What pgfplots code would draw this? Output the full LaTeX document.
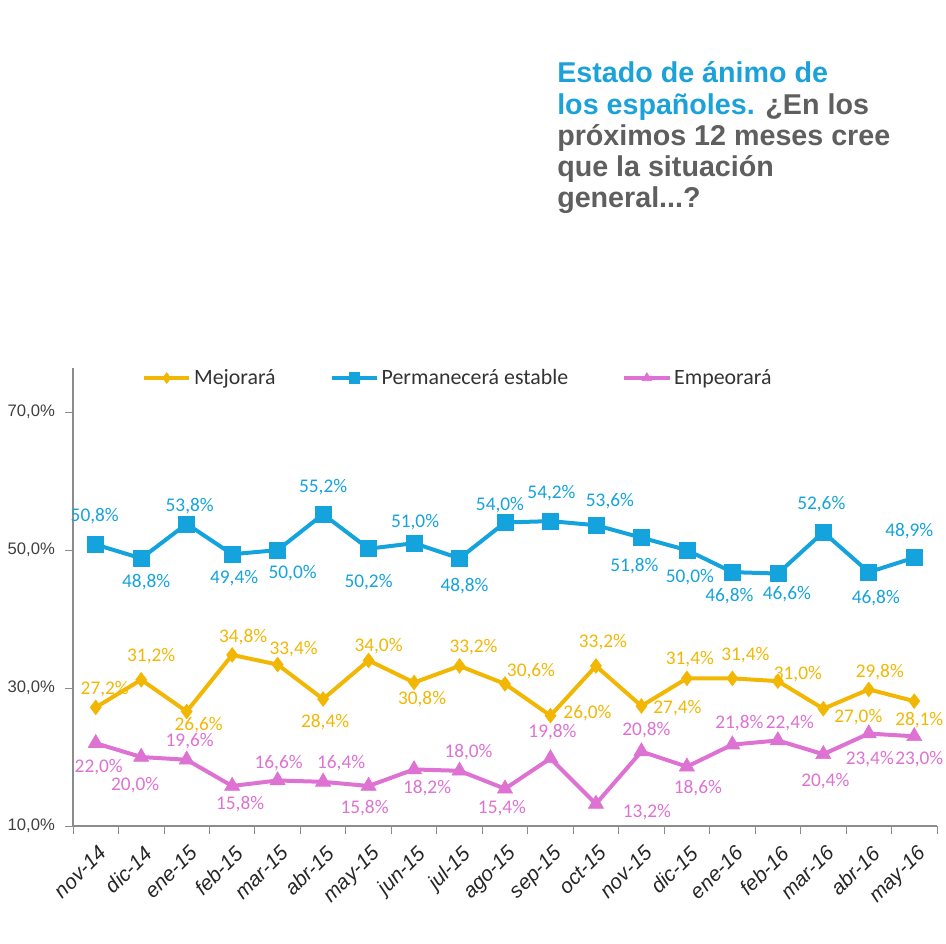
\documentclass[border=0pt]{standalone}
\usepackage{fontspec}
\setmainfont{Liberation Sans}
\newfontfamily\carlito{Carlito}
\usepackage{pgfplots}
\usepackage{pgfplotstable}
\pgfplotsset{compat=1.18}
\definecolor{cgold}{HTML}{F2B705}
\definecolor{ccyan}{HTML}{15A3DD}
\definecolor{cpink}{HTML}{DD72D3}
\definecolor{ctitle}{HTML}{5F5F5F}
\definecolor{ctcyan}{HTML}{1CA2D9}
\definecolor{caxis}{HTML}{8C8C8C}

% i = month index, v = value (%), dx = label x offset (px), u = label y offset upward (px)
\pgfplotstableread{
i v dx u
0 50.8 -1 28
1 48.8 5 -24
2 53.8 3 18
3 49.4 2 -24
4 50.0 15 -23
5 55.2 0 27
6 50.2 0 -33
7 51.0 1 21
8 48.8 5 -28
9 54.0 -5 17
10 54.2 1 28
11 53.6 14 24
12 51.8 -7 -28
13 50.0 3 -27
14 46.8 -3 -24
15 46.6 9 -21
16 52.6 -2 28
17 46.8 7 -26
18 48.9 -5 27
}\perm

\pgfplotstableread{
i v dx u
0 27.2 9 18
1 31.2 10 24
2 26.6 12 -14
3 34.8 11 18
4 33.4 16 15
5 28.4 2 -23
6 34.0 10 14
7 30.8 8 -17
8 33.2 14 19
9 30.6 26 13
10 26.0 37 2
11 33.2 7 24
12 27.4 36 -2
13 31.4 3 19
14 31.4 13 23
15 31.0 20 7
16 27.0 35 -8
17 29.8 11 17
18 28.1 5 -19
}\mej

\pgfplotstableread{
i v dx u
0 22.0 3 -24
1 20.0 -6 -28
2 19.6 3 19
3 15.8 8 -18
4 16.6 1 17
5 16.4 18 19
6 15.8 -4 -22
7 18.2 13 -19
8 18.0 9 19
9 15.4 -3 -19
10 19.8 2 26
11 13.2 51 -8
12 20.8 5 21
13 18.6 11 -21
14 21.8 7 21
15 22.4 12 17
16 20.4 2 -27
17 23.4 1 -26
18 23.0 5 -23
}\emp

\pgfplotsset{
  lbl/.style={
    forget plot, only marks, mark=none, point meta=explicit,
    nodes near coords={\pgfmathprintnumber[fixed,fixed zerofill,precision=1,use comma]{\pgfplotspointmeta}\%},
    every node near coord/.append style={anchor=center,
      font=\carlito\fontsize{14.5}{14.5}\selectfont, text=#1, inner sep=0pt},
  }
}

\begin{document}
\begin{tikzpicture}
\begin{axis}[
  scale only axis, width=648pt, height=343.5pt,
  xmin=-0.5, xmax=18.5, ymin=10, ymax=76.4,
  clip=false,
  axis lines=left,
  axis line style={-, draw=caxis, line width=0.8pt},
  xtick={-0.5,0.5,...,18.5},
  x tick label as interval,
  xticklabels={nov-14,dic-14,ene-15,feb-15,mar-15,abr-15,may-15,jun-15,jul-15,ago-15,sep-15,oct-15,nov-15,dic-15,ene-16,feb-16,mar-16,abr-16,may-16},
  ytick={10,30,50,70},
  tick align=outside, major tick length=6pt,
  tick style={draw=caxis, line width=0.6pt},
  /pgf/number format/assume math mode=true,
  yticklabel={\pgfmathprintnumber[fixed,fixed zerofill,precision=1,use comma]{\tick}\%},
  yticklabel style={font=\fontsize{12.5}{13}\selectfont, text=black!75, xshift=-4pt},
  xticklabel style={rotate=45, anchor=north east, font=\itshape\fontsize{15.5}{15.5}\selectfont, text=black!85, xshift=-1pt, yshift=-3pt},
  legend columns=-1,
  legend style={draw=none, fill=none, at={(0.075,0.978)}, anchor=west,
    font=\carlito\fontsize{16.4}{16.4}\selectfont, text=black!80,
    /tikz/every even column/.append style={column sep=38.5pt}},
  legend image code/.code={\draw[mark repeat=2,mark phase=2,#1,mark size=4pt] plot coordinates {(0pt,0pt) (17pt,0pt) (34pt,0pt)};},
]
\addplot[color=cgold, line width=3pt, mark=diamond*, mark size=5.5pt, mark options={solid, line width=0.5pt}] table[x=i,y=v] {\mej};
\addlegendentry{Mejorará}
\addplot[color=ccyan, line width=3pt, mark=square*, mark size=6pt, mark options={solid, line width=0.5pt}] table[x=i,y=v] {\perm};
\addlegendentry{Permanecerá estable}
\addplot[color=cpink, line width=3pt, mark=triangle*, mark size=6.5pt, mark options={solid, line width=0.5pt}] table[x=i,y=v] {\emp};
\addlegendentry{Empeorará}
% data labels, shifted by per-point offsets (px -> axis units)
\addplot[lbl=cgold] table[x expr=\thisrow{i}+\thisrow{dx}/45.47, y expr=\thisrow{v}+\thisrow{u}/6.898, meta=v] {\mej};
\addplot[lbl=ccyan] table[x expr=\thisrow{i}+\thisrow{dx}/45.47, y expr=\thisrow{v}+\thisrow{u}/6.898, meta=v] {\perm};
\addplot[lbl=cpink] table[x expr=\thisrow{i}+\thisrow{dx}/45.47, y expr=\thisrow{v}+\thisrow{u}/6.898, meta=v] {\emp};
\end{axis}
\begin{scope}[every node/.style={anchor=base west, inner sep=0pt, font=\bfseries\fontsize{21.5}{21.5}\selectfont}]
\node[text=ctcyan] at (363pt,557.25pt) {Estado de ánimo de};
\node at (363pt,533.85pt) {\textcolor{ctcyan}{los españoles.} \textcolor{ctitle}{¿En los}};
\node[text=ctitle] at (363pt,510.45pt) {próximos 12 meses cree};
\node[text=ctitle] at (363pt,487.05pt) {que la situación};
\node[text=ctitle] at (363pt,463.65pt) {general...?};
\end{scope}
\pgfresetboundingbox
\path (-54.75pt,-88.5pt) rectangle (654.75pt,619.5pt);
\end{tikzpicture}
\end{document}
